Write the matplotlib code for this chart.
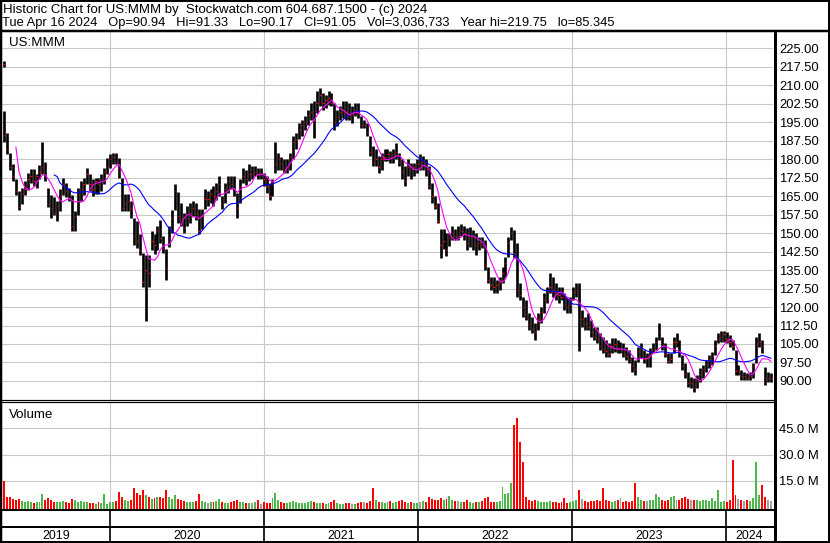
import numpy as np
import pandas as pd
import matplotlib
matplotlib.use("Agg")
import matplotlib.pyplot as plt
import matplotlib.dates as mdates
from matplotlib.lines import Line2D

plt.rcParams['font.family'] = ['Liberation Sans', 'DejaVu Sans']

W, H = 830, 543

# first session shown on its own, then one bar per week (week ending Friday)
first_day = "2019-04-23"
first_bar = [219.7, 217.3, 218.5, 4.0]   # hi, lo, close, volume (M)
week_end = pd.date_range("2019-04-26", "2024-04-19", freq="W-FRI")

week_hi = [
    199.5, 190.5, 182.5, 178, 172, 167, 168.5, 171, 174.5, 176,
    176, 174, 177.5, 187, 179, 168.5, 165.5, 164.5, 163, 168,
    172.5, 170.5, 168.5, 165.5, 159, 168.5, 171, 172.5, 176.5, 174,
    172, 172.5, 172.5, 174, 176.5, 180.5, 182, 182.6, 182.6, 180.5,
    172.5, 165.7, 165.7, 163, 156.3, 155, 149.5, 142, 141, 141,
    151, 149.5, 153, 155.5, 149, 143.5, 153, 159.5, 170, 166.5,
    162.3, 158.2, 161, 162.3, 163, 162.3, 159.6, 159.6, 167.7, 167,
    167.7, 169, 170.4, 173, 165, 170.4, 173, 173, 173, 166.4,
    171.8, 176.5, 175.8, 178, 177.2, 177.2, 176.5, 176.5, 174.5, 173,
    170.4, 171.8, 187, 182.6, 181, 180, 180, 182.6, 189.3, 190.7,
    194.7, 196, 197.4, 200, 202.8, 203.5, 207.6, 209, 207, 206,
    207.6, 207, 202.8, 200, 201.5, 203.5, 203.5, 202.8, 201.5, 202.8,
    202.8, 197.4, 196, 194.7, 189.3, 185.3, 184, 181.2, 182.6, 184,
    184, 183.2, 184, 186.6, 182.6, 179.9, 177.2, 179.9, 178.5, 178.5,
    179.9, 182, 181.2, 179.9, 177.2, 170.4, 165, 162.3, 151.5, 151.5,
    150.1, 150.1, 152.8, 151.5, 152.8, 153.5, 152.8, 152, 152.6, 151.3,
    150, 148.5, 148.5, 147.2, 136.4, 132.3, 132.3, 131, 132.3, 136.4,
    140.4, 148.5, 152.6, 151.3, 146, 129.6, 124.2, 122.8, 117.4, 116,
    113.4, 117.4, 120.1, 125.5, 128.3, 133.7, 132.3, 129.6, 128.3, 128.3,
    125.5, 124.2, 124.2, 128.3, 129.6, 129.6, 118.8, 116, 117.4, 114.7,
    112, 112, 109.3, 108, 106.6, 105.3, 107.3, 107.3, 106.6, 106,
    105.3, 103.9, 102.6, 99.9, 98.5, 103.9, 105.3, 102.6, 101.2, 103.2,
    105.3, 108, 113.4, 108, 105.3, 101.2, 101.2, 108, 109.3, 106.6,
    100.5, 97.1, 93.8, 91.7, 91, 92.4, 95.1, 96.5, 98.5, 100.5,
    101.9, 106.6, 109.3, 110.4, 110.4, 110, 108.6, 106.6, 102.6, 96.5,
    94.4, 93.8, 93.1, 93.8, 97.1, 108, 109.3, 106.6, 95.8, 93.8, 93.1,
]
week_lo = [
    187, 182, 175.5, 171, 165.5, 159.5, 162, 165.5, 167.5, 170.5,
    169, 168.5, 172, 174, 171, 160.5, 156, 157.5, 155, 159,
    165.5, 164.5, 163, 151, 151, 157.5, 163, 165.5, 169.8, 167,
    165, 165.7, 166, 167, 169.8, 174, 176.5, 178, 178, 172.5,
    159, 159, 159, 156.3, 145, 144, 141, 128, 114.4, 128,
    143, 141.5, 143, 146, 142, 131, 144.5, 150, 159.5, 154,
    152.8, 150, 152.8, 154.2, 157, 155.5, 149.5, 151.5, 159.6, 161,
    162.3, 161, 163.6, 165, 159.6, 162.3, 166.4, 167.7, 165, 156.2,
    162.3, 170.4, 169.7, 171, 171.8, 173, 171.8, 171.8, 169, 166.4,
    163.6, 165, 174.5, 175.8, 175.8, 174.5, 174.5, 175.8, 180, 184,
    188, 189.3, 192, 194, 196, 188.6, 198.8, 201.5, 200, 200.8,
    202, 201.5, 192, 193.4, 196, 196.8, 196, 196, 194.7, 197.4,
    196.8, 192.7, 192.7, 189.3, 181.2, 177.2, 177.2, 174.5, 175.8, 179.2,
    179.2, 178.5, 178.5, 179.9, 177.2, 171.8, 169, 173, 171.8, 173,
    174.5, 175.8, 175.8, 173, 167.7, 162.3, 159.6, 154.2, 140, 143.4,
    140.7, 144.7, 147.4, 147.4, 147.4, 148.8, 147.4, 143, 144.5, 143.1,
    141, 143.1, 143.8, 135, 129.6, 126.9, 125.5, 125.5, 126.9, 129.6,
    132.3, 140.4, 147.2, 140, 124, 122.8, 116, 114.7, 110.7, 109.3,
    106.6, 110.7, 113.4, 117.4, 121.5, 125.5, 124.2, 122.8, 121.5, 122.8,
    118.8, 117.4, 117.4, 122.8, 124.2, 102.3, 112, 110.7, 110.7, 108,
    106.6, 105.3, 102.6, 101.2, 99.8, 99.8, 101.2, 101.9, 101.2, 101.2,
    99.9, 98.5, 97.1, 93.8, 92.4, 97.8, 99.2, 97.1, 95.8, 95.8,
    101.2, 102.6, 106.6, 102.6, 99.9, 97.1, 97.1, 101.2, 103.9, 99.9,
    94.4, 91, 87.7, 87, 85.6, 87, 89.7, 91, 93.8, 95.1,
    96.5, 100.5, 105.3, 106, 106, 105.3, 103.9, 102.6, 92.4, 92.4,
    90.4, 90.4, 90.4, 90.4, 91, 97.1, 103.9, 101.2, 88.4, 89.7, 89.7,
]
week_cl = [
    190, 184, 177, 173, 167, 160.5, 166, 168, 172, 173,
    171, 173, 175, 177, 173, 162, 160, 158, 161, 165,
    170, 167, 164, 153, 157, 166, 168, 170, 174, 170,
    168, 171, 170, 172, 175, 177, 180, 181, 179, 175,
    160, 162, 163, 160, 149, 147, 143, 130, 135, 134,
    147, 145, 151, 148, 144, 136, 148, 156, 167, 157,
    156, 152, 156, 158, 160, 158, 151, 157, 164, 164,
    166, 165, 167, 170, 162, 168, 171, 170, 168, 160,
    169, 173, 172, 174, 174, 175, 174, 174, 172, 169,
    165, 170, 178, 180, 178, 176, 177, 181, 187, 188,
    192, 194, 195, 198, 199, 196, 203, 206, 203, 204,
    205, 203, 195, 197, 199, 200, 199, 198, 198, 200,
    199, 194, 194, 191, 183, 179, 180, 177, 180, 181,
    182, 181, 182, 183, 179, 175, 171, 177, 176, 177,
    178, 178, 179, 176, 169, 165, 161, 155, 145, 147,
    143, 148, 150, 149, 149, 151, 150, 146, 148, 149,
    145, 146, 145, 137, 131, 129, 128, 129, 130, 134,
    138, 146, 150, 142, 127, 125, 120, 117, 113, 111,
    110, 115, 118, 123, 126, 128, 127, 126, 125, 124,
    121, 120, 121, 126, 127, 115, 115, 113, 112, 110,
    108, 107, 104, 103, 102, 101, 104, 105, 103, 103,
    101, 100, 99, 96, 95, 102, 103, 99, 99, 101,
    103, 106, 110, 104, 101, 98, 99, 106, 106, 102,
    96, 93, 89, 89, 87, 90, 93, 95, 97, 99,
    100, 104, 107, 108, 109, 107, 106, 104, 94, 94,
    92, 92, 91, 92, 96, 105, 106, 104, 91, 91, 91,
]
# typical daily volume in each week, millions of shares
week_vol = [
    15, 6, 5.5, 4.5, 4, 4.5, 3.5, 3, 3.5, 3,
    2.5, 3, 3, 7.5, 4, 5, 4, 3, 3, 3,
    3.5, 3, 2.5, 4.5, 4, 3, 3.5, 3, 3, 2.5,
    2.5, 2, 3, 2.5, 7.5, 2, 3, 3, 3.5, 8.5,
    6, 4, 3.5, 4, 11, 8, 7, 9.5, 7, 5.5,
    4.5, 5, 5.5, 6, 5, 10, 5.5, 4.5, 7, 4.5,
    4, 3.5, 3, 3, 3, 3.5, 7.5, 3.5, 3, 2.5,
    3, 3, 3.5, 4.5, 3, 2.5, 2.5, 3, 3.5, 4,
    3, 3, 2.5, 2.5, 2.5, 3, 4, 2, 3, 2.5,
    2.5, 5, 8, 4, 3, 2.5, 2.5, 3, 3.5, 3,
    2.5, 2.5, 2.5, 3, 3.5, 3, 2.5, 2.5, 2.5, 2,
    2.5, 3, 4, 2.5, 2, 2, 2.5, 2.5, 2, 2,
    2.5, 3, 3, 2.5, 3.5, 11, 4, 3, 3, 2.5,
    3, 3.5, 2.5, 3, 3.5, 4, 3, 2.5, 3, 2.5,
    2.5, 3, 3.5, 3, 5.5, 4.5, 4, 4, 5, 4,
    4.5, 6.5, 4, 3.5, 3.5, 3, 3, 4, 3, 2.5,
    3, 3, 3.5, 5, 5.5, 3, 3, 3, 3.5, 11.5,
    7.5, 8, 14, 47, 51, 37, 26, 6, 4, 3.5,
    4, 3.5, 3, 3, 3, 3.5, 3, 3, 2.5, 3,
    5, 2.5, 3, 3.5, 4, 9.5, 4.5, 3.5, 3, 3.5,
    3.5, 4, 3.5, 11, 4, 3.5, 3, 3.5, 4, 5,
    3, 3.5, 3, 3.5, 13.5, 6, 4, 3.5, 3.5, 4,
    4, 7.5, 6, 4, 3.5, 4, 5.5, 6.5, 4, 4,
    5, 6, 4.5, 4, 4, 4, 3.5, 4, 4, 3.5,
    5, 3.5, 10, 3, 3.5, 3, 4, 27, 7, 4.5,
    4, 3.5, 4, 3.5, 5, 26, 7, 12.5, 6, 4, 3.5,
]

years = ["2019", "2020", "2021", "2022", "2023", "2024"]
price_ticks = np.arange(90, 225.1, 7.5)
vol_ticks = [15, 30, 45]

# ---- assemble series ----
dates = [pd.Timestamp(first_day)] + list(week_end - pd.Timedelta(days=2))
x = mdates.date2num(dates)
hi = np.array([first_bar[0]] + week_hi)
lo = np.array([first_bar[1]] + week_lo)
cl = np.array([first_bar[2]] + week_cl)
vol = np.array([first_bar[3]] + week_vol)

ma_fast = pd.Series(cl).rolling(6, min_periods=6).mean()
ma_slow = pd.Series(cl).rolling(20, min_periods=19).mean()

chg = np.diff(cl, prepend=cl[0])
vcol = np.where(chg > 0, "#4cb84c", np.where(chg < 0, "#ff0000", "#a0a0a0"))

xlim = (mdates.date2num(pd.Timestamp("2019-04-19")), mdates.date2num(pd.Timestamp("2024-04-22")))
year_starts = mdates.date2num([pd.Timestamp(f"{y}-01-01") for y in years[1:]])


def px_rect(x0, y0, x1, y1):
    return [x0 / W, 1 - y1 / H, (x1 - x0) / W, (y1 - y0) / H]


fig = plt.figure(figsize=(W / 100, H / 100), dpi=100)
fig.patch.set_facecolor("white")

grid_col = "#c8c8c8"
fs = 9.6

# ---- price panel ----
ax = fig.add_axes(px_rect(2, 31.7, 773, 400))
ax.set_xlim(*xlim)
ax.set_ylim(82.27, 231.74)
for y in price_ticks:
    ax.axhline(y, color=grid_col, lw=0.8, zorder=0)
for xs in year_starts:
    ax.axvline(xs, color=grid_col, lw=0.8, zorder=0)
ax.vlines(x, lo, hi, color="black", lw=1.9, zorder=2)
ax.hlines(cl, x - 0.6, x + 2.4, color="red", lw=0.9, zorder=3)
ax.plot(x, ma_slow, color="#0000ff", lw=0.8, zorder=4)
ax.plot(x, ma_fast, color="#ff00ff", lw=0.8, zorder=4)
ax.set_yticks(price_ticks)
ax.set_yticklabels([f"{t:.2f}" for t in price_ticks])
ax.yaxis.tick_right()
ax.tick_params(axis="y", length=0, pad=4.3, labelsize=9.4)
ax.set_xticks([])
for s in ax.spines.values():
    s.set_visible(False)
ax.text(7 / 771, 1 - (46 - 31.7) / 368.3, "US:MMM", transform=ax.transAxes,
        va="baseline", ha="left", fontsize=fs)

# ---- volume panel ----
axv = fig.add_axes(px_rect(2, 402.3, 773, 509.5))
axv.set_xlim(*xlim)
vmin, vmax = -1.43, 59.94
axv.set_ylim(vmin, vmax)
for y in vol_ticks:
    axv.axhline(y, color=grid_col, lw=0.8, zorder=0)
for xs in year_starts:
    axv.axvline(xs, color=grid_col, lw=0.8, zorder=0)
axv.bar(x, vol - vmin, bottom=vmin, width=4.6, color=vcol, lw=0, zorder=2)
axv.set_yticks(vol_ticks)
axv.set_yticklabels([f"{t:.1f} M" for t in vol_ticks])
axv.yaxis.tick_right()
axv.tick_params(axis="y", length=0, pad=4.3, labelsize=9.4)
axv.set_xticks([])
for s in axv.spines.values():
    s.set_visible(False)
axv.text(7 / 771, 1 - (417.7 - 402.3) / 107.2, "Volume", transform=axv.transAxes,
         va="baseline", ha="left", fontsize=fs)

# ---- date strip ----
axd = fig.add_axes(px_rect(2, 510, 773, 541))
axd.set_xlim(*xlim)
axd.set_ylim(0, 1)
axd.axis("off")
axd.vlines(year_starts, 0, 1, color="black", lw=1.2)
bounds = np.concatenate([[xlim[0]], year_starts, [xlim[1]]])
for i, yl in enumerate(years):
    axd.text((bounds[i] + bounds[i + 1]) / 2, (541 - 539.3) / 31, yl, ha="center",
             va="baseline", fontsize=8.9)


# ---- frame lines ----
def line_px(xs, ys, lw):
    fig.add_artist(Line2D([v / W for v in xs], [1 - v / H for v in ys], color="black",
                          lw=lw * 0.72, transform=fig.transFigure, solid_capstyle="butt"))


line_px([0, W], [0.8, 0.8], 2)
line_px([0, W], [541.5, 541.5], 2)
line_px([1, 1], [0, H], 2.5)
line_px([829, 829], [0, H], 2)
line_px([0, W], [30.5, 30.5], 2.5)
line_px([774.8, 774.8], [30, H], 3)
line_px([0, 774], [400.2, 400.2], 1.2)
line_px([0, 774], [402.3, 402.3], 1.2)
line_px([0, 774], [510.2, 510.2], 2)
line_px([0, 774], [527.3, 527.3], 2)

# ---- heading ----
fig.text(3 / W, 1 - 12.7 / H, "Historic Chart for US:MMM by  Stockwatch.com 604.687.1500 - (c) 2024",
         ha="left", va="baseline", fontsize=9.5)
fig.text(2 / W, 1 - 26 / H,
         "Tue Apr 16 2024   Op=90.94   Hi=91.33   Lo=90.17   Cl=91.05   "
         "Vol=3,036,733   Year hi=219.75   lo=85.345",
         ha="left", va="baseline", fontsize=9.3)

fig.savefig("out.png", dpi=100)
